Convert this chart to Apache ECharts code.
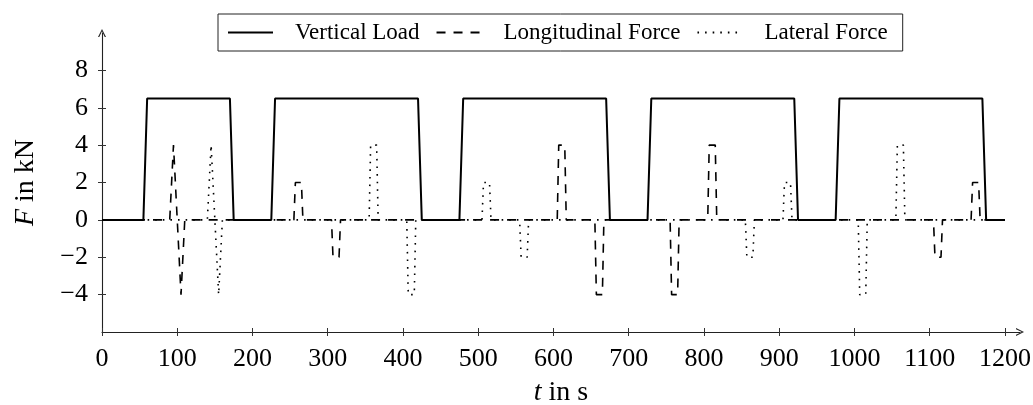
<!DOCTYPE html>
<html>
<head>
<meta charset="utf-8">
<script src="https://cdn.jsdelivr.net/npm/echarts@6/dist/echarts.min.js"></script>
<style>
  html, body { margin: 0; padding: 0; background: #fff; }
  #chart { width: 1033px; height: 405px; }
</style>
</head>
<body>
<div id="chart"></div>
<script>
// [t in s, F in kN]
var verticalLoad = [
  [0, 0], [55, 0], [60, 6.5], [170, 6.5], [175, 0],
  [225, 0], [230, 6.5], [420, 6.5], [425, 0],
  [475, 0], [480, 6.5], [670, 6.5], [675, 0],
  [725, 0], [730, 6.5], [920, 6.5], [925, 0],
  [975, 0], [980, 6.5], [1170, 6.5], [1175, 0], [1200, 0]
];
var longitudinalForce = [
  [0, 0], [90, 0], [95, 4], [105, -4], [110, 0],
  [255, 0], [257, 2], [265, 2], [267, 0],
  [305, 0], [307, -2], [315, -2], [317, 0],
  [605, 0], [607, 4], [615, 4], [617, 0],
  [655, 0], [657, -4], [665, -4], [667, 0],
  [755, 0], [757, -4], [765, -4], [767, 0],
  [805, 0], [807, 4], [815, 4], [817, 0],
  [1105, 0], [1107, -2], [1115, -2], [1117, 0],
  [1155, 0], [1157, 2], [1165, 2], [1167, 0], [1200, 0]
];
var lateralForce = [
  [0, 0], [140, 0], [145, 4], [155, -4], [160, 0],
  [355, 0], [357, 4], [365, 4], [367, 0],
  [405, 0], [407, -4], [415, -4], [417, 0],
  [505, 0], [507, 2], [515, 2], [517, 0],
  [555, 0], [557, -2], [565, -2], [567, 0],
  [855, 0], [857, -2], [865, -2], [867, 0],
  [905, 0], [907, 2], [915, 2], [917, 0],
  [1005, 0], [1007, -4], [1015, -4], [1017, 0],
  [1055, 0], [1057, 4], [1065, 4], [1067, 0], [1200, 0]
];
var xTicks = [0, 100, 200, 300, 400, 500, 600, 700, 800, 900, 1000, 1100, 1200];
var yTicks = [-4, -2, 0, 2, 4, 6, 8];
var seriesNames = ['Vertical Load', 'Longitudinal Force', 'Lateral Force'];

var chart = echarts.init(document.getElementById('chart'));
var font = 'Liberation Serif';
var arrow = 'path://M5,0 L10,10 L8.4,10 L5,2.8 L1.6,10 L0,10 Z';

var nameStyle = {
  fontFamily: font, fontSize: 28, color: '#000',
  rich: {
    i: { fontFamily: font, fontSize: 28, fontStyle: 'italic', color: '#000' },
    r: { fontFamily: font, fontSize: 28, color: '#000' }
  }
};

function plain(v) {
  return String(v).replace('-', '\u2212');
}

var option = {
  animation: false,
  backgroundColor: '#fff',
  grid: { left: 102, right: 13, top: 33, bottom: 73, outerBoundsMode: 'none', containLabel: false },
  legend: {
    data: seriesNames,
    left: 218,
    top: 14,
    itemWidth: 45,
    itemHeight: 14,
    itemGap: 16,
    padding: [7, 15, 7, 9],
    borderColor: '#222',
    borderWidth: 1,
    itemStyle: { color: 'transparent', borderWidth: 0 },
    textStyle: { fontFamily: font, fontSize: 23, color: '#000', padding: [0, 0, 0, 17] }
  },
  xAxis: [
    {
      type: 'value', min: 0, max: 1220,
      axisLine: { onZero: false, lineStyle: { color: '#222', width: 1.1 }, symbol: ['none', arrow], symbolSize: [9, 8] },
      axisTick: { customValues: xTicks, length: 4, lineStyle: { color: '#333' } },
      axisLabel: { customValues: xTicks, fontFamily: font, fontSize: 26, color: '#000', margin: 14, formatter: plain },
      splitLine: { show: false },
      name: '{i|t}{r| in s}', nameLocation: 'middle', nameGap: 47, nameTextStyle: nameStyle
    },
    {
      type: 'value', min: 0, max: 1220, position: 'bottom',
      axisLine: { show: false, onZero: false },
      axisTick: { customValues: xTicks, inside: true, length: 4, lineStyle: { color: '#333' } },
      axisLabel: { show: false },
      splitLine: { show: false }
    }
  ],
  yAxis: [
    {
      type: 'value', min: -6, max: 10,
      axisLine: { onZero: false, lineStyle: { color: '#222', width: 1.1 }, symbol: ['none', arrow], symbolSize: [9, 8] },
      axisTick: { customValues: yTicks, length: 4, lineStyle: { color: '#333' } },
      axisLabel: { customValues: yTicks, fontFamily: font, fontSize: 26, color: '#000', margin: 14, formatter: plain },
      splitLine: { show: false },
      name: '{i|F}{r| in kN}', nameLocation: 'middle', nameGap: 62, nameTextStyle: nameStyle
    },
    {
      type: 'value', min: -6, max: 10, position: 'left',
      axisLine: { show: false, onZero: false },
      axisTick: { customValues: yTicks, inside: true, length: 4, lineStyle: { color: '#333' } },
      axisLabel: { show: false },
      splitLine: { show: false }
    }
  ],
  series: [
    {
      name: seriesNames[0], type: 'line', data: verticalLoad, symbol: 'none',
      itemStyle: { color: '#000' },
      lineStyle: { color: '#000', width: 2 }
    },
    {
      name: seriesNames[1], type: 'line', data: longitudinalForce, symbol: 'none',
      itemStyle: { color: '#000' },
      lineStyle: { color: '#000', width: 1.6, type: [9, 8] }
    },
    {
      name: seriesNames[2], type: 'line', data: lateralForce, symbol: 'none',
      itemStyle: { color: '#000' },
      lineStyle: { color: '#000', width: 1.6, type: [1.6, 6] }
    }
  ]
};
chart.setOption(option);
</script>
</body>
</html>
